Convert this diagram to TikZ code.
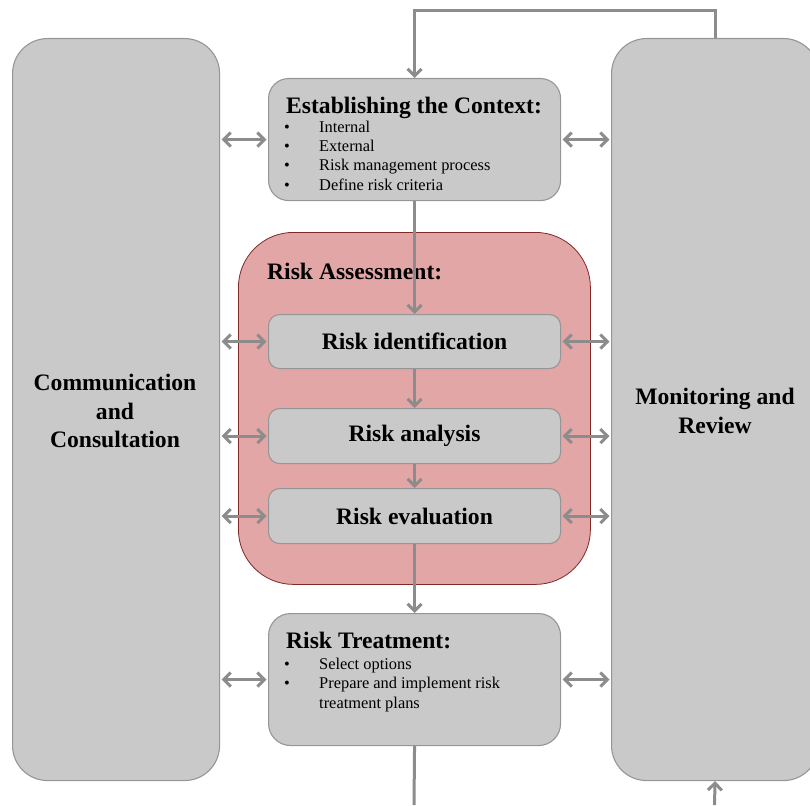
\documentclass[tikz,border=0pt]{standalone}
\usepackage{fontspec}
\setmainfont{Liberation Serif}
\usetikzlibrary{arrows.meta}
\definecolor{boxgray}{RGB}{201,201,201}
\definecolor{edgegray}{RGB}{150,150,150}
\definecolor{wiregray}{RGB}{140,140,140}
\definecolor{assessfill}{RGB}{226,166,166}
\definecolor{assessedge}{RGB}{128,40,40}
\begin{document}
\begin{tikzpicture}[x=1pt,y=-1pt,
  panel/.style={draw=edgegray, fill=boxgray, line width=1.1pt,
    rounded corners=#1, anchor=north west, inner sep=0pt},
  headfont/.style={font=\fontsize{23.6}{28.5}\selectfont\bfseries},
  listfont/.style={font=\fontsize{16.4}{19.3}\selectfont},
  flow/.style={draw=wiregray, line width=3pt,
    -{Straight Barb[length=7pt,width=14pt]}},
  wire/.style={draw=wiregray, line width=3pt},
  twoway/.style={draw=wiregray, line width=3pt,
    {Straight Barb[length=7pt,width=14pt]}-{Straight Barb[length=7pt,width=14pt]},
    shorten <=1.5pt, shorten >=1.5pt}
]
\useasboundingbox (0,0) rectangle (810,805);

% side panels
\node[panel=35pt, minimum width=207pt, minimum height=742pt] (comm) at (12,38) {};
\node[panel=35pt, minimum width=207pt, minimum height=742pt] (monitor) at (611,38) {};
\node[headfont, align=center] (commlabel) at (115,411)
  {Communication\\and\\Consultation};
\node[headfont, align=center] (monlabel) at (715,411)
  {Monitoring and\\Review};

% risk assessment frame
\node[draw=assessedge, fill=assessfill, line width=0.8pt, rounded corners=55pt,
  anchor=north west, inner sep=0pt, minimum width=352pt, minimum height=352pt]
  (assess) at (238,232) {};
\node[headfont, anchor=base west, inner sep=0pt] (assesslabel) at (267,279)
  {Risk Assessment:};

% process boxes
\node[panel=20pt, minimum width=292pt, minimum height=122pt] (ctx) at (268,78) {};
\node[headfont, anchor=base west, inner sep=0pt] (ctxtitle) at (286,114)
  {Establishing the Context:};
% base anchor of a multi-line node sits on its last line
\node[listfont, anchor=base west, inner sep=0pt, align=left] (ctxlist) at (284,190)
  {\makebox[35pt][l]{\textbullet}Internal\\
   \makebox[35pt][l]{\textbullet}External\\
   \makebox[35pt][l]{\textbullet}Risk management process\\
   \makebox[35pt][l]{\textbullet}Define risk criteria};

\node[panel=11pt, minimum width=292pt, minimum height=54pt] (ident) at (268,314) {};
\node[headfont] (identlabel) at (ident.center) {Risk identification};
\node[panel=11pt, minimum width=292pt, minimum height=55pt] (analysis) at (268,408) {};
\node[headfont] (analysislabel) at (analysis.center) {Risk analysis};
\node[panel=11pt, minimum width=292pt, minimum height=55pt] (evaluation) at (268,488) {};
\node[headfont] (evaluationlabel) at (evaluation.center) {Risk evaluation};

\node[panel=22pt, minimum width=292pt, minimum height=132pt] (treat) at (268,613) {};
\node[headfont, anchor=base west, inner sep=0pt] (treattitle) at (286,648)
  {Risk Treatment:};
\node[listfont, anchor=base west, inner sep=0pt, align=left] (treatlist) at (284,708)
  {\makebox[35pt][l]{\textbullet}Select options\\
   \makebox[35pt][l]{\textbullet}Prepare and implement risk\\
   \hspace*{35pt}treatment plans};

% main flow
\draw[flow] (ctx.south) -- (ident.north);
\draw[flow] (ident.south) -- (analysis.north);
\draw[flow] (analysis.south) -- (evaluation.north);
\draw[flow] (evaluation.south) -- (treat.north);
\draw[flow] (monitor.north) -- ++(0,-27) -| (ctx.north);
\coordinate (outlet) at (414,805);
\coordinate (inlet) at (714.5,805);
\draw[wire] (treat.south) -- (outlet);
\draw[flow] (inlet) -- (monitor.south);

% links to the side panels
\foreach \b in {ctx,ident,analysis,evaluation,treat}{
  \draw[twoway] (\b.west -| comm.east) -- (\b.west);
  \draw[twoway] (\b.east) -- (\b.east -| monitor.west);
}
\end{tikzpicture}
\end{document}
